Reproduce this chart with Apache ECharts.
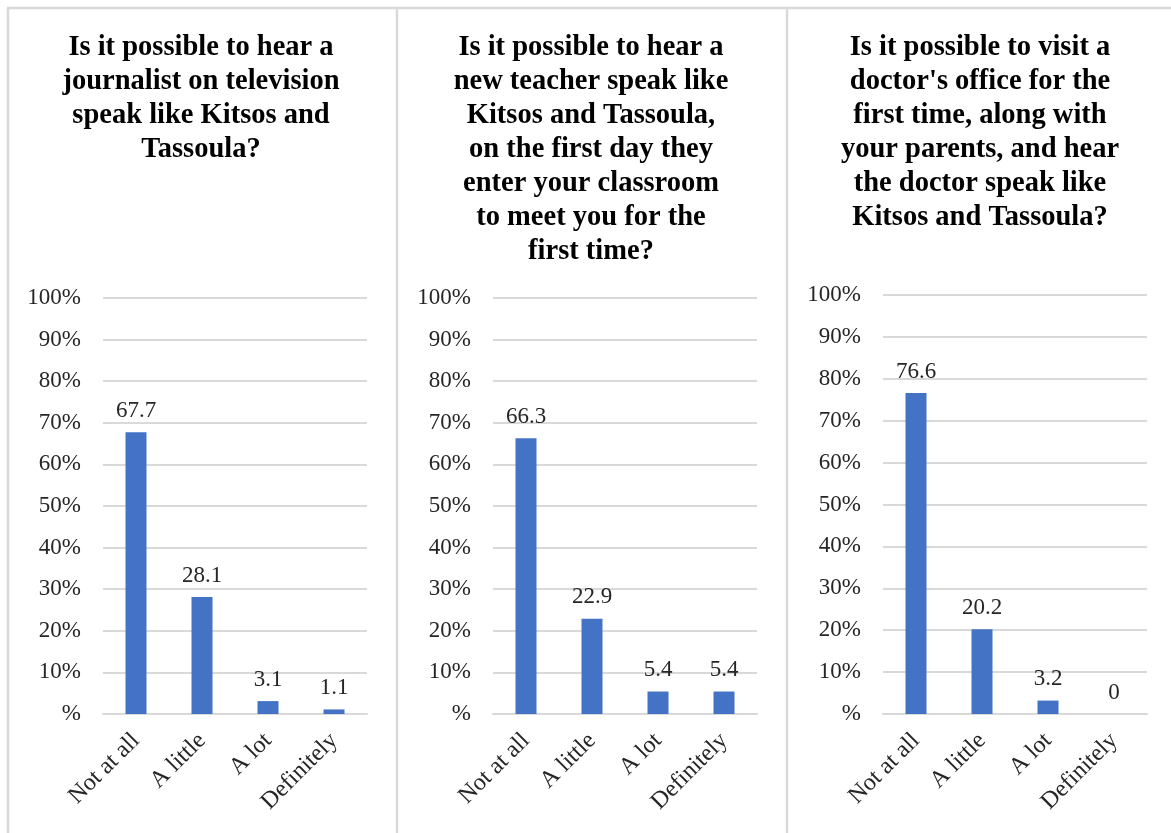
<!DOCTYPE html>
<html>
<head>
<meta charset="utf-8">
<script src="https://cdn.jsdelivr.net/npm/echarts@6/dist/echarts.min.js"></script>
<style>
  html, body { margin: 0; padding: 0; background: #ffffff; }
  #chart { width: 1171px; height: 833px; }
</style>
</head>
<body>
<div id="chart"></div>
<script>
// Answer categories shared by the three questions
const categories = ['Not at all', 'A little', 'A lot', 'Definitely'];

// Percentages of answers for each question
const journalist = [67.7, 28.1, 3.1, 1.1];
const teacher = [66.3, 22.9, 5.4, 5.4];
const doctor = [76.6, 20.2, 3.2, 0];

// Question titles (line breaks as laid out above each panel)
const titleJournalist = 'Is it possible to hear a\njournalist on television\nspeak like Kitsos and\nTassoula?';
const titleTeacher = 'Is it possible to hear a\nnew teacher speak like\nKitsos and Tassoula,\non the first day they\nenter your classroom\nto meet you for the\nfirst time?';
const titleDoctor = 'Is it possible to visit a\ndoctor\'s office for the\nfirst time, along with\nyour parents, and hear\nthe doctor speak like\nKitsos and Tassoula?';

// Value axis range
const yMin = 0, yMax = 100, yStep = 10;

const FONT = '"Liberation Serif", "Times New Roman", serif';
const TEXT = '#262626';
const GRID_LINE = '#d9d9d9';
const BAR = '#4472c4';

const panels = [
  { title: titleJournalist, data: journalist, center: 201, gridLeft: 103, gridTop: 298 },
  { title: titleTeacher, data: teacher, center: 591, gridLeft: 493, gridTop: 298 },
  { title: titleDoctor, data: doctor, center: 980, gridLeft: 883, gridTop: 295 }
];

const option = {
  backgroundColor: '#ffffff',
  animation: false,
  title: panels.map(p => ({
    text: p.title,
    left: p.center,
    top: 31,
    textAlign: 'center',
    padding: 0,
    textStyle: {
      fontFamily: FONT,
      fontWeight: 'bold',
      fontSize: 28.5,
      lineHeight: 34,
      color: '#000000'
    }
  })),
  grid: panels.map(p => ({
    left: p.gridLeft,
    top: p.gridTop,
    width: 264,
    height: 714 - p.gridTop,
    containLabel: false
  })),
  xAxis: panels.map((p, i) => ({
    type: 'category',
    gridIndex: i,
    data: categories,
    axisLine: { show: true, lineStyle: { color: GRID_LINE, width: 2 } },
    axisTick: { show: false },
    axisLabel: {
      rotate: 45,
      margin: 23,
      interval: 0,
      fontFamily: FONT,
      fontSize: 24,
      color: TEXT
    }
  })),
  yAxis: panels.map((p, i) => ({
    type: 'value',
    gridIndex: i,
    min: yMin,
    max: yMax,
    interval: yStep,
    axisLine: { show: false },
    axisTick: { show: false },
    splitLine: { show: true, lineStyle: { color: GRID_LINE, width: 2 } },
    axisLabel: {
      margin: 22,
      fontFamily: FONT,
      fontSize: 23,
      color: TEXT,
      formatter: v => (v === 0 ? '%' : v + '%')
    }
  })),
  series: panels.map((p, i) => ({
    type: 'bar',
    xAxisIndex: i,
    yAxisIndex: i,
    data: p.data,
    barWidth: 21,
    itemStyle: { color: BAR },
    label: {
      show: true,
      position: 'top',
      distance: 10,
      fontFamily: FONT,
      fontSize: 23,
      color: TEXT,
      formatter: d => String(d.value)
    }
  })),
  graphic: [
    { type: 'line', shape: { x1: 7, y1: 8, x2: 1171, y2: 8 }, style: { stroke: GRID_LINE, lineWidth: 2.5 } },
    { type: 'line', shape: { x1: 8, y1: 8, x2: 8, y2: 833 }, style: { stroke: GRID_LINE, lineWidth: 2.5 } },
    { type: 'line', shape: { x1: 397, y1: 8, x2: 397, y2: 833 }, style: { stroke: GRID_LINE, lineWidth: 2.5 } },
    { type: 'line', shape: { x1: 787, y1: 8, x2: 787, y2: 833 }, style: { stroke: GRID_LINE, lineWidth: 2.5 } }
  ]
};

const chart = echarts.init(document.getElementById('chart'), null, { renderer: 'canvas' });
chart.setOption(option);
</script>
</body>
</html>
